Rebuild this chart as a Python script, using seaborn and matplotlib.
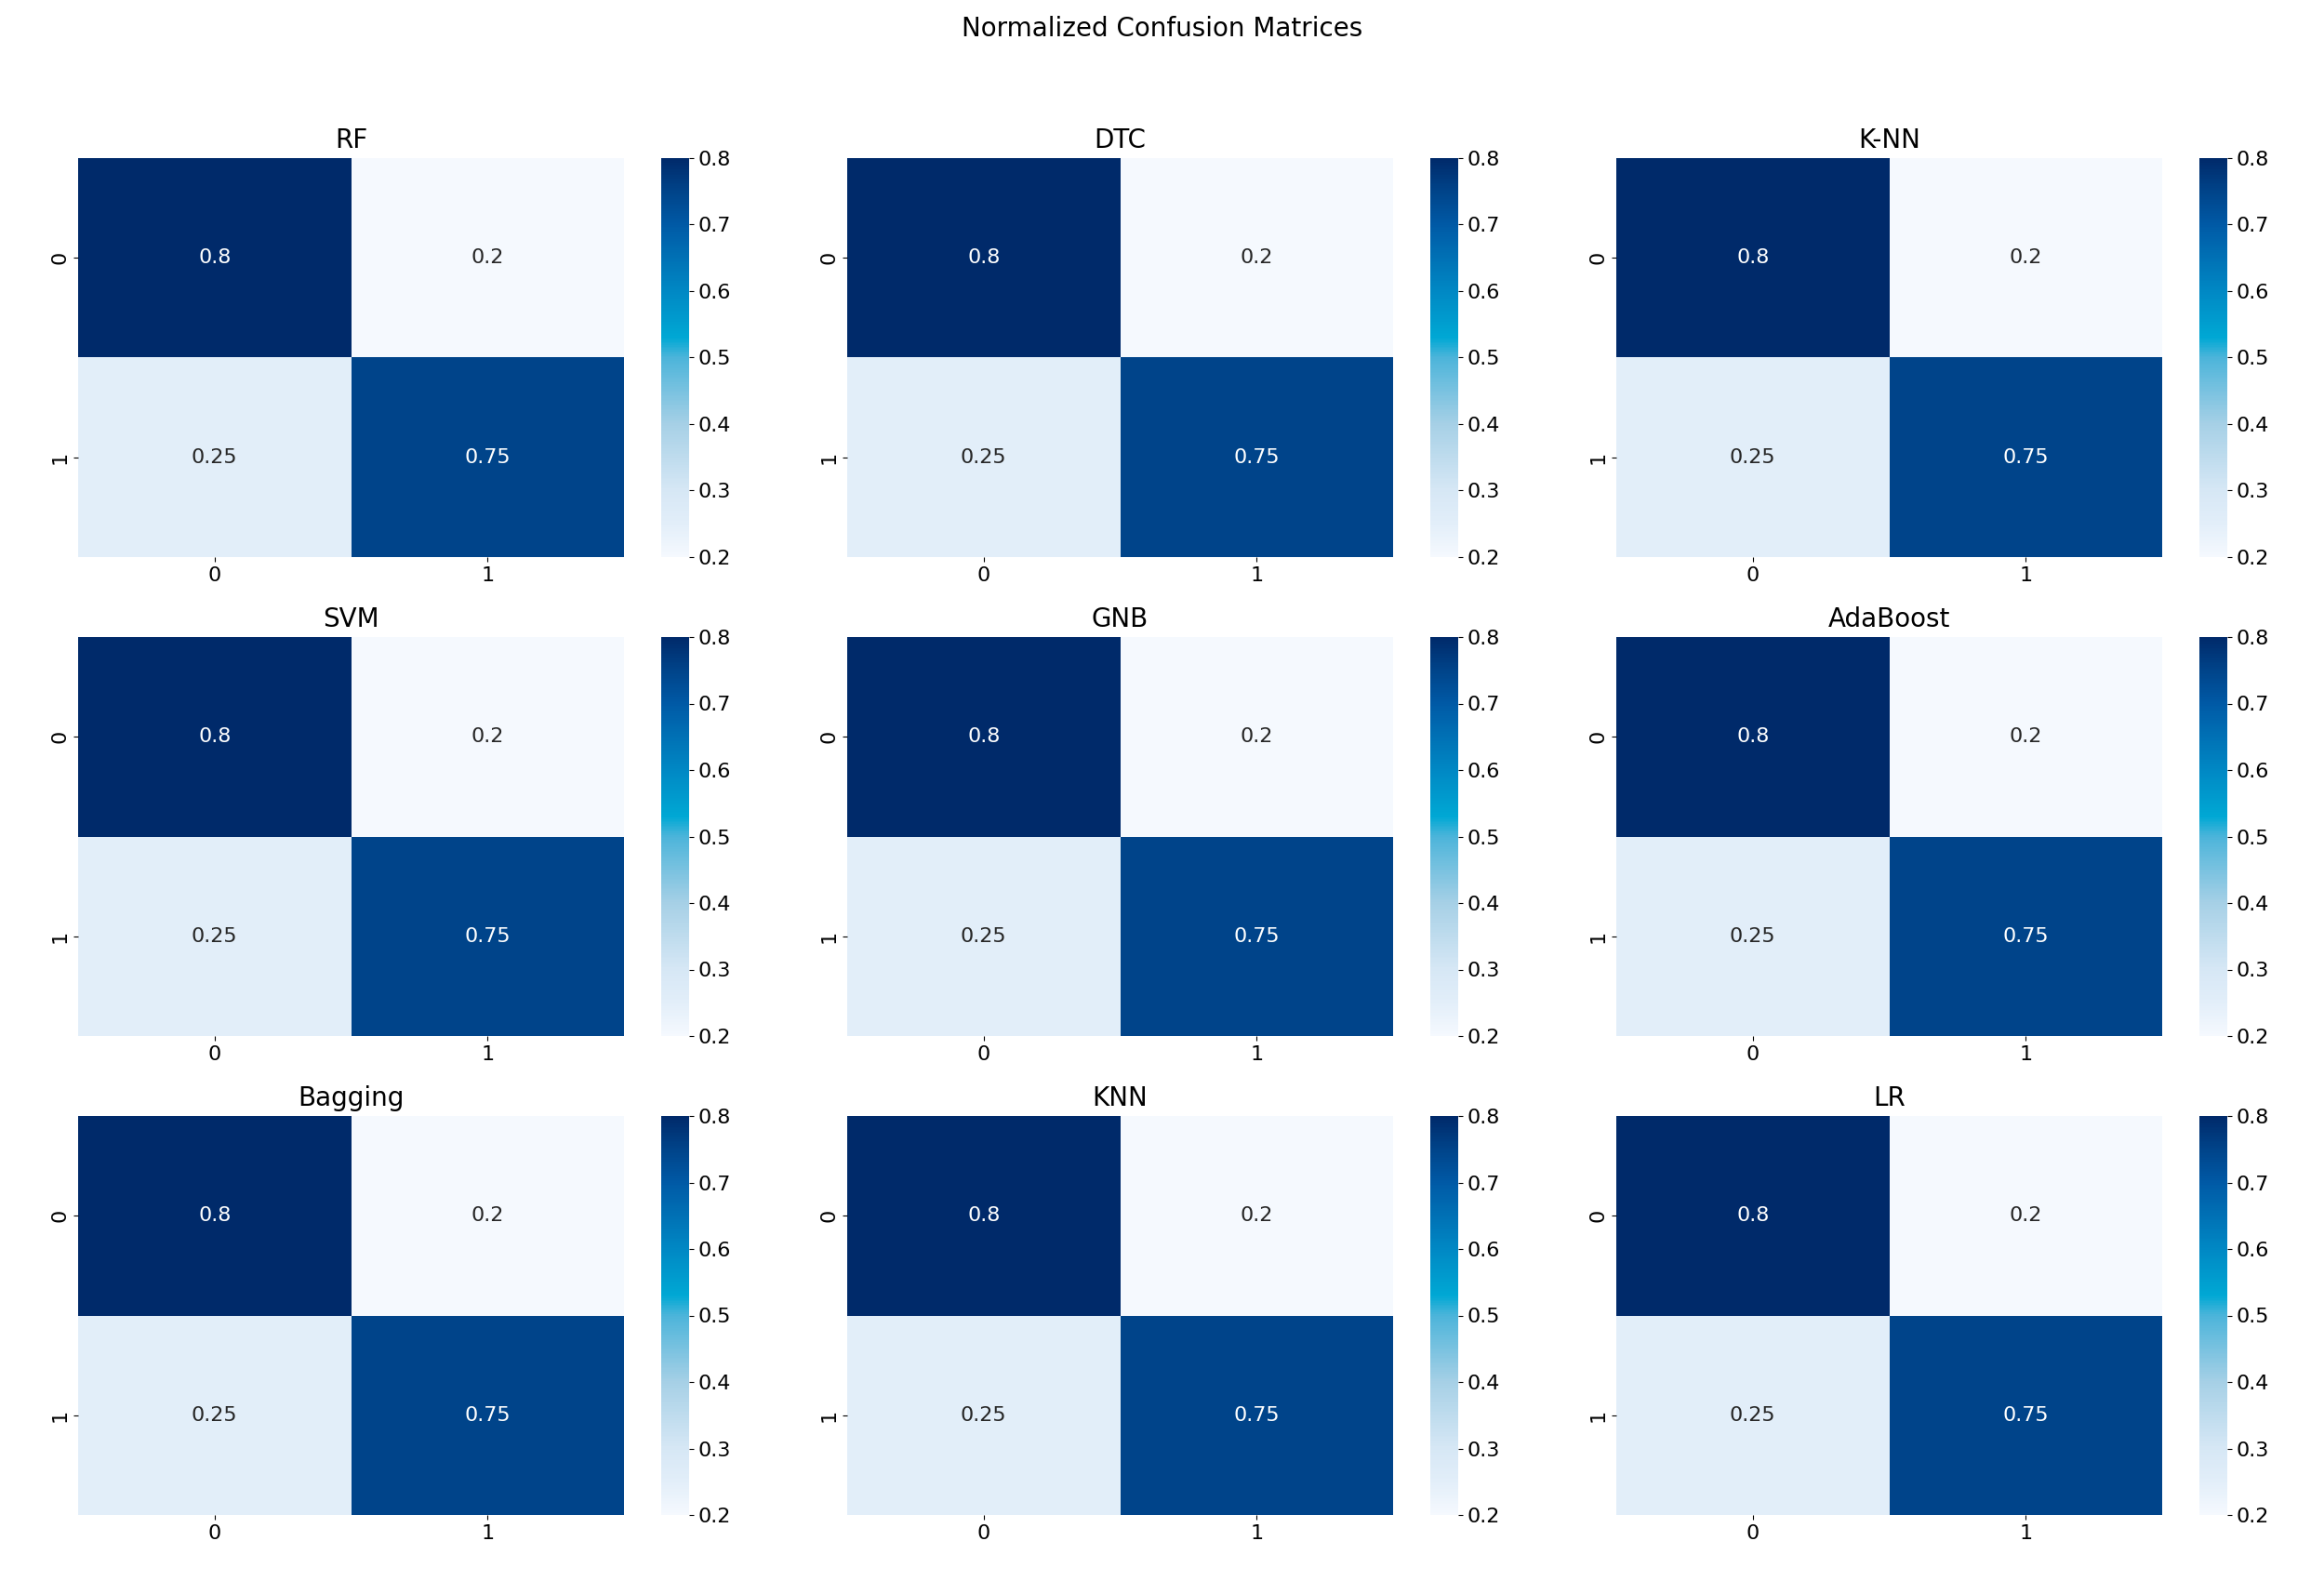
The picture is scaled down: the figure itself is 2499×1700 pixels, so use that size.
import numpy as np
import pandas as pd
import matplotlib
matplotlib.use("Agg")
import matplotlib.pyplot as plt
from matplotlib.colors import LinearSegmentedColormap
import seaborn as sns

# ---- data ----
models = ["RF", "DTC", "K-NN", "SVM", "GNB", "AdaBoost", "Bagging", "KNN", "LR"]
class_labels = [0, 1]
cm_rf       = [[0.80, 0.20], [0.25, 0.75]]
cm_dtc      = [[0.80, 0.20], [0.25, 0.75]]
cm_knn_dash = [[0.80, 0.20], [0.25, 0.75]]
cm_svm      = [[0.80, 0.20], [0.25, 0.75]]
cm_gnb      = [[0.80, 0.20], [0.25, 0.75]]
cm_ada      = [[0.80, 0.20], [0.25, 0.75]]
cm_bagging  = [[0.80, 0.20], [0.25, 0.75]]
cm_knn      = [[0.80, 0.20], [0.25, 0.75]]
cm_lr       = [[0.80, 0.20], [0.25, 0.75]]
matrices = [cm_rf, cm_dtc, cm_knn_dash, cm_svm, cm_gnb, cm_ada, cm_bagging, cm_knn, cm_lr]

# ---- colormap approximating the reference ----
cmap = LinearSegmentedColormap.from_list(
    "blues_cyan",
    [(0.0, "#f5f9fe"), (0.083, "#e2eef9"), (0.167, "#d6e7f5"), (0.333, "#a6d0e6"),
     (0.5, "#4cb4da"), (0.55, "#00a8d4"), (0.667, "#0088c4"), (0.833, "#005aa6"),
     (0.917, "#00448a"), (1.0, "#002a6a")])

plt.rcParams["font.family"] = ["DejaVu Sans"]
W, H = 2499, 1700
fig = plt.figure(figsize=(W / 100, H / 100), dpi=100)

hm_left0, col_pitch, hm_w = 84, 827, 587
cb_left0, cb_w = 711, 30
top0, row_pitch, hm_h = 170, 515, 429

for i, (name, mat) in enumerate(zip(models, matrices)):
    r, c = divmod(i, 3)
    top = top0 + r * row_pitch
    ax = fig.add_axes([(hm_left0 + c * col_pitch) / W, 1 - (top + hm_h) / H, hm_w / W, hm_h / H])
    cax = fig.add_axes([(cb_left0 + c * col_pitch) / W, 1 - (top + hm_h) / H, cb_w / W, hm_h / H])
    df = pd.DataFrame(mat, index=class_labels, columns=class_labels)
    sns.heatmap(df, annot=True, cmap=cmap, ax=ax, cbar_ax=cax,
                annot_kws={"fontsize": 16}, square=False)
    ax.set_title(name, fontsize=20, pad=8)
    ax.tick_params(labelsize=16)
    cax.tick_params(labelsize=16)

fig.text(0.5, 1 - 31 / H, "Normalized Confusion Matrices", ha="center", va="center", fontsize=20)

fig.savefig("out.png", dpi=100)
